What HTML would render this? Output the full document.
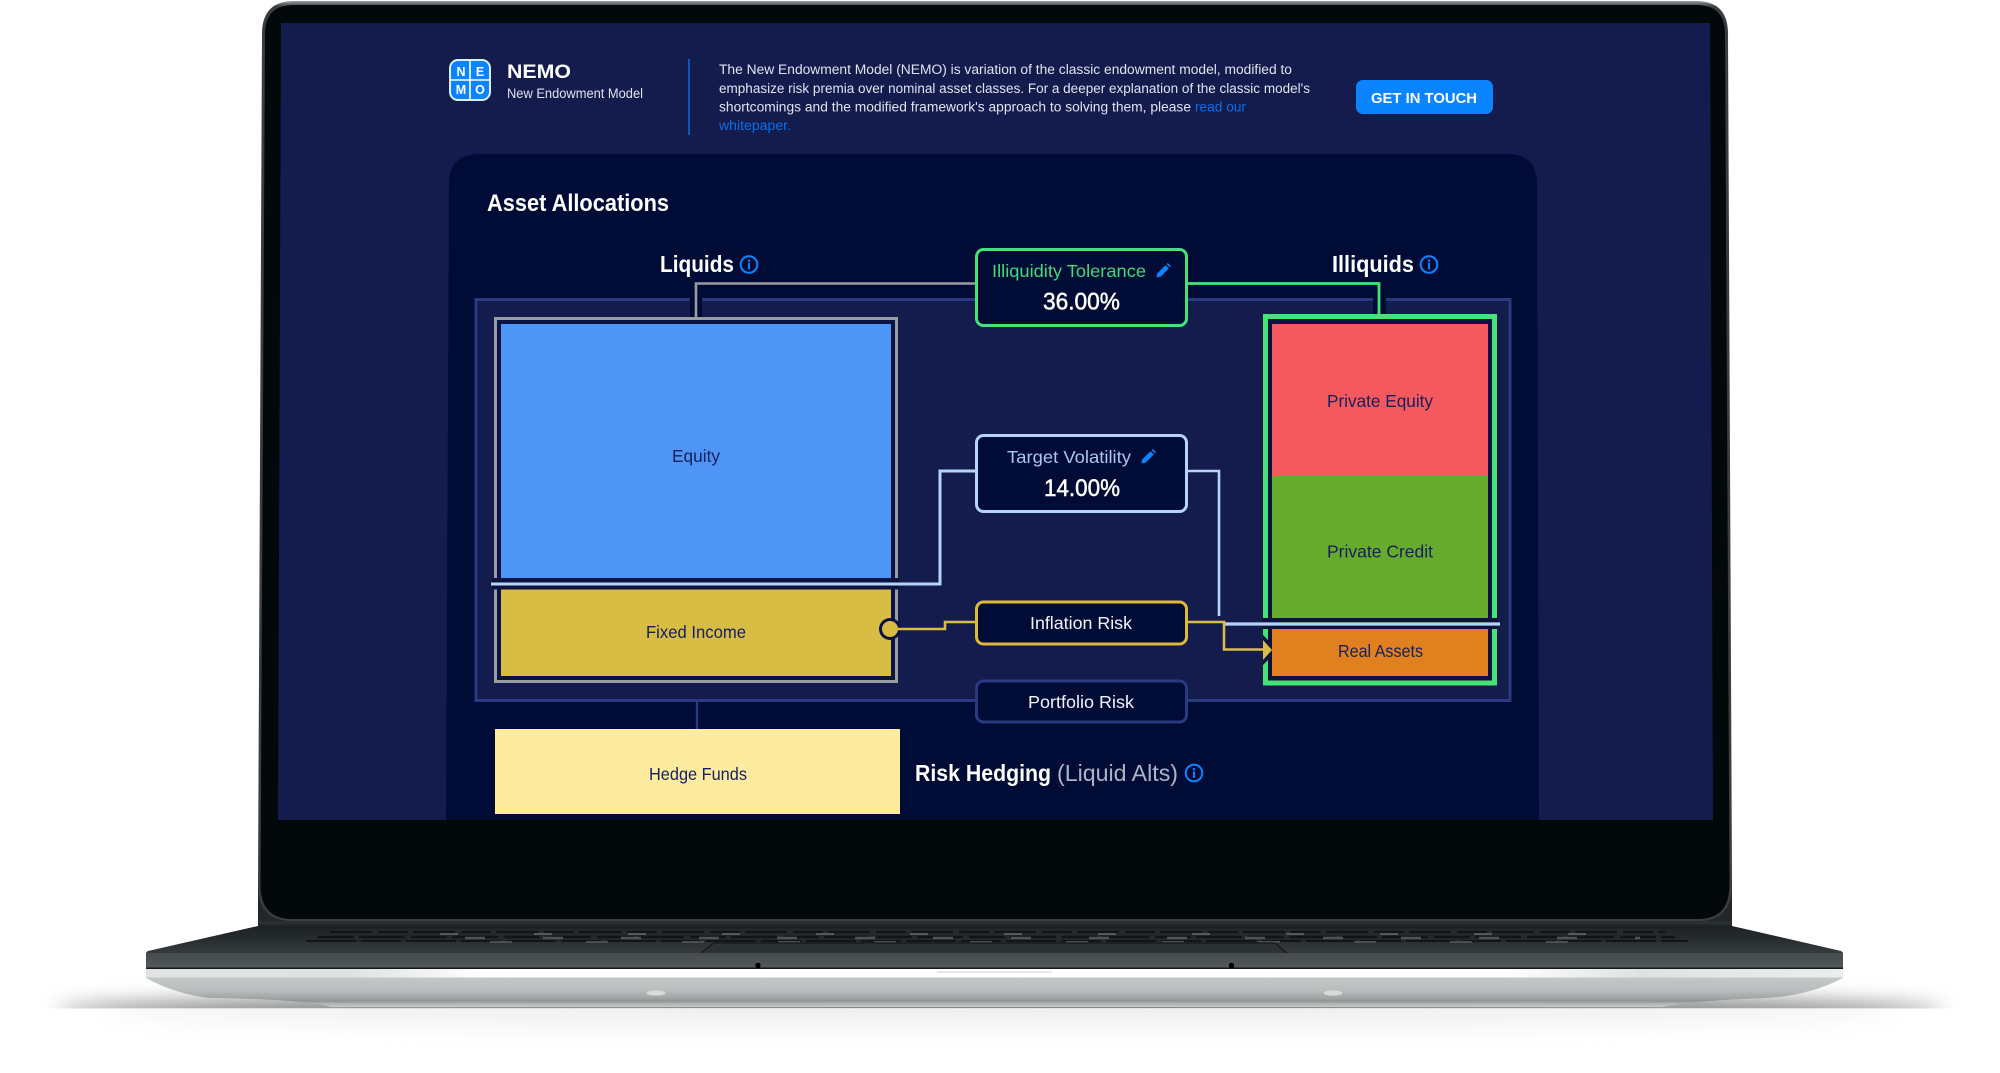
<!DOCTYPE html>
<html><head><meta charset="utf-8"><title>NEMO</title>
<style>
html,body{margin:0;padding:0;background:#fff;width:2000px;height:1073px;overflow:hidden}
svg{display:block}
text{font-family:"Liberation Sans",sans-serif}
</style></head><body>
<svg width="2000" height="1073" viewBox="0 0 2000 1073" xmlns="http://www.w3.org/2000/svg">
<defs>
<filter id="b8" x="-5%" y="-200%" width="110%" height="500%"><feGaussianBlur stdDeviation="10"/></filter>
<filter id="b16" x="-5%" y="-300%" width="110%" height="700%"><feGaussianBlur stdDeviation="14"/></filter>
<clipPath id="cs"><rect x="0" y="900" width="2000" height="108.5"/></clipPath>
<clipPath id="cb"><rect x="0" y="1008" width="2000" height="65"/></clipPath>
<linearGradient id="deck" x1="0" y1="0" x2="0" y2="1"><stop offset="0" stop-color="#1b2023"/><stop offset="1" stop-color="#363b3e"/></linearGradient>
<linearGradient id="front" x1="0" y1="0" x2="0" y2="1"><stop offset="0" stop-color="#454a4d"/><stop offset="1" stop-color="#53595b"/></linearGradient>
<linearGradient id="strip" x1="146" y1="0" x2="1843" y2="0" gradientUnits="userSpaceOnUse"><stop offset="0" stop-color="#e2e4e4"/><stop offset=".12" stop-color="#e0e2e2"/><stop offset=".2" stop-color="#fff"/><stop offset=".8" stop-color="#fff"/><stop offset=".88" stop-color="#e0e2e2"/><stop offset="1" stop-color="#eceeee"/></linearGradient>
<linearGradient id="silver" x1="0" y1="0" x2="0" y2="1"><stop offset="0" stop-color="#c3c8c8"/><stop offset=".45" stop-color="#b9bdbd"/><stop offset=".72" stop-color="#9ea3a3"/><stop offset=".8" stop-color="#8f9494"/><stop offset=".88" stop-color="#aeb1b1"/><stop offset="1" stop-color="#c9caca"/></linearGradient>
<linearGradient id="rim" x1="0" y1="0" x2="0" y2="1"><stop offset="0" stop-color="#9a9c9d"/><stop offset=".006" stop-color="#3a3e40"/><stop offset="1" stop-color="#3a3e40"/></linearGradient>
<g id="info"><circle r="8.3" fill="none" stroke="#0a84ff" stroke-width="2"/><circle cy="-3.8" r="1.2" fill="#0a84ff"/><rect x="-1" y="-1.5" width="2" height="6.3" fill="#0a84ff"/></g>
<g id="pen"><path d="M-6.5 6.5 L-5.8 2.5 L2.5 -5.8 L5.8 -2.5 L-2.5 5.8 Z" fill="#0a84ff"/><path d="M3.6 -6.9 L4.8 -8 L7.9 -4.9 L6.9 -3.6 Z" fill="#0a84ff"/></g>
</defs>

<!-- shadows -->
<g clip-path="url(#cs)"><ellipse cx="1000" cy="1011" rx="945" ry="17" fill="#7a7d7d" filter="url(#b8)"/></g>
<g clip-path="url(#cb)"><ellipse cx="1000" cy="1006" rx="900" ry="18" fill="#ececec" filter="url(#b16)"/></g>

<!-- hinge -->
<rect x="258" y="880" width="1474" height="47" fill="#22272a"/>
<!-- lid -->
<path d="M262 32 Q263 1 294 1 L1696 1 Q1727 1 1728 32 L1732 885 Q1732 921 1698 921 L292 921 Q258 921 258 885 Z" fill="url(#rim)"/>
<path d="M265 32 Q266 5 294 5 L1696 5 Q1724 5 1725 32 L1729.5 885 Q1729.5 919 1698 919 L292 919 Q260.5 919 260.5 885 Z" fill="#03080a"/>

<!-- deck -->
<path d="M258 926 L1732 926 L1841 951 Q1843 952 1843 954 L146 954 Q146 952 148 951 Z" fill="url(#deck)"/>
<rect x="258" y="921" width="1474" height="3" fill="#2a2f32"/>
<!-- keyboard -->
<path d="M338 929 L1657 929 L1686 942 L303 942 Z" fill="#25292c"/>
<g fill="none">
<line x1="330" y1="932" x2="1665" y2="932" stroke="#121517" stroke-width="2.2" stroke-dasharray="42 6 30 5"/>
<line x1="318" y1="937" x2="1675" y2="937" stroke="#121517" stroke-width="2.4" stroke-dasharray="36 5 46 6"/>
<line x1="306" y1="941" x2="1688" y2="941" stroke="#121517" stroke-width="2" stroke-dasharray="50 5 40 5"/>
<line x1="440" y1="934" x2="1600" y2="934" stroke="#55595c" stroke-width="2" stroke-dasharray="18 76"/>
<line x1="465" y1="938" x2="1640" y2="938" stroke="#4f5356" stroke-width="2.4" stroke-dasharray="20 58"/>
<line x1="490" y1="942" x2="1600" y2="942" stroke="#4a4e51" stroke-width="2" stroke-dasharray="22 74"/>
</g>
<!-- trackpad -->
<path d="M714 943 L1275 943 L1287 953 L701 953 Z" fill="#2c3134"/>
<path d="M714 943 L1275 943 M714 943 L701 953 M1275 943 L1287 953" stroke="#15181a" stroke-width="1.2" fill="none"/>

<!-- front edge -->
<rect x="146" y="953" width="1697" height="15" fill="url(#front)"/>
<rect x="146" y="967.5" width="1697" height="1.5" fill="#14181a"/>
<rect x="755.5" y="963" width="5" height="5" rx="2" fill="#000"/>
<rect x="1229" y="963" width="5" height="5" rx="2" fill="#000"/>
<!-- silver base -->
<path d="M146 977 L1843 977 L1843 978 Q1808 996 1765 998 Q1700 1000 1663 1007 L331 1007 Q300 999 210 998 Q175 994 146 978 Z" fill="url(#silver)"/>
<rect x="146" y="969" width="1697" height="8.5" fill="url(#strip)"/>
<rect x="937" y="971.5" width="115" height="1.2" fill="#d5d7d7"/>
<ellipse cx="656" cy="993" rx="9.5" ry="2.6" fill="#d9dbdb"/>
<ellipse cx="1333" cy="993" rx="9.5" ry="2.6" fill="#d9dbdb"/>

<!-- screen -->
<path d="M281 23 L1710 23 L1713 820 L278 820 Z" fill="#141c4e"/>
<path d="M446 820 L449 184 Q449 154 479 154 L1507 154 Q1537 154 1537 184 L1539 820 Z" fill="#000c36"/>

<!-- header -->
<rect x="450" y="60" width="40" height="40" rx="8" fill="#0a84ff" stroke="#dcefff" stroke-width="2"/>
<path d="M470 60 V100 M450 80 H490" stroke="#fff" stroke-width="1.6"/>
<g fill="#fff" font-weight="700" font-size="12.5" text-anchor="middle">
<text x="461" y="76">N</text><text x="480" y="76">E</text><text x="461" y="94">M</text><text x="480" y="94">O</text>
</g>
<text x="507" y="78" font-size="19.5" font-weight="700" fill="#fff" textLength="64" lengthAdjust="spacingAndGlyphs">NEMO</text>
<text x="507" y="98" font-size="13.5" fill="#dfe3ee" textLength="136" lengthAdjust="spacingAndGlyphs">New Endowment Model</text>
<rect x="688" y="59" width="2" height="76" fill="#0b5bb5"/>
<g font-size="13.5" fill="#dfe3ee">
<text x="719" y="74" textLength="573" lengthAdjust="spacingAndGlyphs">The New Endowment Model (NEMO) is variation of the classic endowment model, modified to</text>
<text x="719" y="93" textLength="591" lengthAdjust="spacingAndGlyphs">emphasize risk premia over nominal asset classes. For a deeper explanation of the classic model's</text>
<text x="719" y="111.5" textLength="472" lengthAdjust="spacingAndGlyphs">shortcomings and the modified framework's approach to solving them, please</text>
</g>
<g font-size="13.5" fill="#0b6fe8">
<text x="1195" y="111.5" textLength="51" lengthAdjust="spacingAndGlyphs">read our</text>
<text x="719" y="130" textLength="72" lengthAdjust="spacingAndGlyphs">whitepaper.</text>
</g>
<rect x="1356" y="80" width="137" height="34" rx="7" fill="#0a84ff"/>
<text x="1371" y="103" font-size="14.5" font-weight="700" fill="#fff" textLength="106" lengthAdjust="spacingAndGlyphs">GET IN TOUCH</text>

<text x="487" y="211" font-size="24" font-weight="700" fill="#fff" textLength="182" lengthAdjust="spacingAndGlyphs">Asset Allocations</text>

<text x="660" y="272" font-size="23" font-weight="700" fill="#fff" textLength="74" lengthAdjust="spacingAndGlyphs">Liquids</text>
<use href="#info" x="749" y="264.5"/>
<text x="1332" y="272" font-size="23" font-weight="700" fill="#fff" textLength="82" lengthAdjust="spacingAndGlyphs">Illiquids</text>
<use href="#info" x="1429" y="264.5"/>

<!-- group -->
<path d="M476 299.5 H1510 V700.5 H476 Z" fill="#141c4e" stroke="#2a3a80" stroke-width="3"/>
<!-- stem halos -->
<rect x="690" y="297" width="12" height="24" fill="#000c36"/>
<rect x="1373" y="297" width="13" height="20" fill="#000c36"/>

<!-- gray box -->
<rect x="495.5" y="318.5" width="401" height="363" fill="#0d1340" stroke="#9a9c9f" stroke-width="3"/>
<rect x="501" y="324" width="390" height="254" fill="#4f95f5"/>
<rect x="501" y="589.5" width="390" height="86.5" fill="#d8bc44"/>
<!-- gray connector -->
<path d="M696 318 V283.5 H975" fill="none" stroke="#9a9c9f" stroke-width="2.6"/>
<!-- light band halo -->
<rect x="492" y="578" width="407" height="11.5" fill="#0d1340"/>

<!-- green box -->
<rect x="1265.5" y="316.5" width="229" height="366.5" fill="#0d1340" stroke="#46e278" stroke-width="5"/>
<rect x="1272" y="324" width="216" height="152" fill="#f4595e"/>
<rect x="1272" y="476" width="216" height="142" fill="#66ab2b"/>
<rect x="1272" y="629" width="216" height="47" fill="#e0801f"/>
<path d="M1379 314 V283.5 H1188" fill="none" stroke="#46e278" stroke-width="2.8"/>
<rect x="1262" y="618" width="236" height="11" fill="#0d1340"/>

<!-- light connectors -->
<path d="M491 584 H940 V471 H975" fill="none" stroke="#b6d4f7" stroke-width="3"/>
<path d="M1188 471 H1219 V616" fill="none" stroke="#b6d4f7" stroke-width="2.6"/>
<path d="M1224 624 H1500" fill="none" stroke="#b6d4f7" stroke-width="3.2"/>

<!-- yellow connectors -->
<circle cx="890" cy="629" r="11" fill="#0d1340"/>
<circle cx="890" cy="629" r="8" fill="#d8bc44"/>
<path d="M890 629 H945 V622 H975" fill="none" stroke="#d8bc44" stroke-width="2.6"/>
<path d="M1188 622 H1224 V649.5 H1263" fill="none" stroke="#d8bc44" stroke-width="2.6"/>
<path d="M1263 635 L1272 644 L1272 656 L1263 665 Z" fill="#0d1340"/>
<path d="M1263 640 L1272 650 L1263 660 Z" fill="#d8bc44"/>

<!-- hedge -->
<path d="M697 700 V729" stroke="#2a3a80" stroke-width="2.4"/>
<rect x="495" y="729" width="405" height="85" fill="#fdeba0"/>

<!-- labelled nodes -->
<rect x="976.5" y="249.5" width="210" height="76" rx="7" fill="#000c36" stroke="#46e278" stroke-width="3"/>
<rect x="976.5" y="435.5" width="210" height="76" rx="7" fill="#000c36" stroke="#b6d4f7" stroke-width="3"/>
<rect x="976.5" y="602" width="210" height="42" rx="7" fill="#000c36" stroke="#dcb93a" stroke-width="3"/>
<rect x="976.5" y="681" width="210" height="41" rx="7" fill="#000c36" stroke="#2a3a80" stroke-width="3"/>

<text x="992" y="277" font-size="17.5" fill="#42d97a" textLength="154" lengthAdjust="spacingAndGlyphs">Illiquidity Tolerance</text>
<use href="#pen" x="1163" y="271"/>
<text x="1043" y="309.5" font-size="24" stroke="#fff" stroke-width=".5" fill="#fff" textLength="77" lengthAdjust="spacingAndGlyphs">36.00%</text>
<text x="1007" y="463" font-size="17.5" fill="#a9c7ef" textLength="124" lengthAdjust="spacingAndGlyphs">Target Volatility</text>
<use href="#pen" x="1148" y="457"/>
<text x="1044" y="496" font-size="24" stroke="#fff" stroke-width=".5" fill="#fff" textLength="76" lengthAdjust="spacingAndGlyphs">14.00%</text>
<text x="1030" y="629" font-size="17.5" fill="#f2f4fa" textLength="102" lengthAdjust="spacingAndGlyphs">Inflation Risk</text>
<text x="1028" y="708" font-size="17.5" fill="#f2f4fa" textLength="106" lengthAdjust="spacingAndGlyphs">Portfolio Risk</text>

<g font-size="17.5" fill="#15205c">
<text x="672" y="462" textLength="48" lengthAdjust="spacingAndGlyphs">Equity</text>
<text x="646" y="638" textLength="100" lengthAdjust="spacingAndGlyphs">Fixed Income</text>
<text x="649" y="780" textLength="98" lengthAdjust="spacingAndGlyphs">Hedge Funds</text>
<text x="1327" y="407" textLength="106" lengthAdjust="spacingAndGlyphs">Private Equity</text>
<text x="1327" y="557.5" textLength="106" lengthAdjust="spacingAndGlyphs">Private Credit</text>
<text x="1338" y="657" textLength="85" lengthAdjust="spacingAndGlyphs">Real Assets</text>
</g>

<text x="915" y="781" font-size="23" font-weight="700" fill="#fff" textLength="136" lengthAdjust="spacingAndGlyphs">Risk Hedging</text>
<text x="1057" y="781" font-size="23" fill="#aeb3c6" textLength="121" lengthAdjust="spacingAndGlyphs">(Liquid Alts)</text>
<use href="#info" x="1194" y="773"/>
</svg>
</body></html>
